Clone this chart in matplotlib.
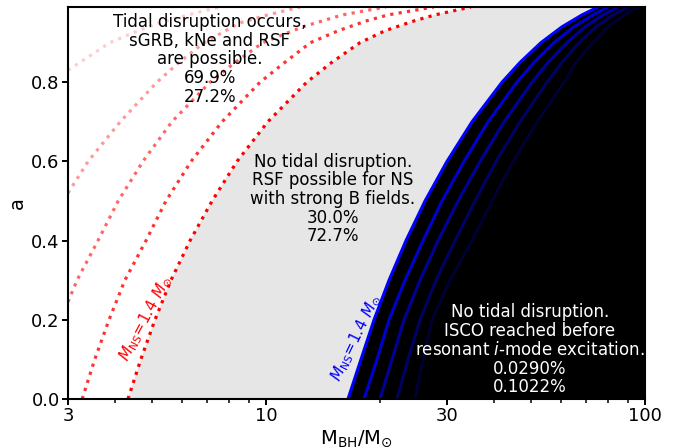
import matplotlib.pyplot as plt
import numpy as np

# BH spin vs. BH mass boundaries for a set of NS masses (first entry is 1.4 Msun)
# tidal-disruption boundaries
spin_td = [
    [0, 0.1, 0.2, 0.3, 0.4, 0.5, 0.6, 0.7, 0.8, 0.85, 0.9, 0.93, 0.955, 0.97, 0.99],
    [0, 0.1, 0.2, 0.3, 0.4, 0.5, 0.6, 0.7, 0.8, 0.85, 0.9, 0.93, 0.955, 0.97, 0.99],
    [0.245, 0.3, 0.4, 0.5, 0.6, 0.7, 0.8, 0.85, 0.9, 0.94, 0.97, 0.99],
    [0.52, 0.6, 0.7, 0.8, 0.85, 0.9, 0.95, 0.97, 0.99],
    [0.83, 0.87, 0.9, 0.93, 0.95, 0.97, 0.99],
]
mbh_td = [
    [4.32, 4.67, 5.09, 5.61, 6.30, 7.20, 8.38, 10.1, 12.8, 14.9, 17.7, 20.6, 24.6, 27.9, 34.7],
    [3.27, 3.53, 3.85, 4.24, 4.82, 5.44, 6.34, 7.65, 9.64, 11.2, 13.1, 15.5, 18.4, 21.0, 27.7],
    [3.0, 3.17, 3.60, 4.07, 4.73, 5.64, 7.11, 8.28, 9.81, 12.5, 15.9, 20.7],
    [3.0, 3.39, 4.12, 5.15, 5.89, 6.86, 8.53, 10.1, 12.3],
    [3.0, 3.47, 3.87, 4.59, 5.25, 6.22, 7.56],
]

# ISCO reached before resonant i-mode excitation
spin_isco = [0, 0.1, 0.2, 0.3, 0.4, 0.5, 0.6, 0.7, 0.8, 0.85, 0.9, 0.94, 0.97, 0.99]
mbh_isco = [
    [16.45, 17.80, 19.27, 21.11, 23.40, 26.27, 30.02, 34.95, 41.94, 46.79, 53.15, 60.40, 68.20, 75.17],
    [18.13, 19.62, 21.11, 23.26, 25.95, 29.12, 33.29, 38.52, 45.93, 50.94, 57.53, 64.95, 72.90, 79.88],
    [19.98, 21.50, 23.12, 25.48, 28.43, 32.10, 36.69, 42.46, 50.32, 55.46, 62.26, 69.46, 77.50, 84.89],
    [22.16, 23.69, 25.48, 28.08, 31.52, 35.59, 40.44, 46.79, 55.13, 60.40, 66.97, 74.27, 82.34, 90.22],
    [24.72, 25.95, 27.40, 30.58, 34.95, 39.47, 44.83, 51.94, 61.13, 65.75, 72.90, 79.88, 88.04, 95.85],
]

alphas = [1.0, 0.8, 0.6, 0.4, 0.2]

frac_td = ['69.9%', '27.2%']
frac_rsf = ['30.0%', '72.7%']
frac_isco = ['0.0290%', '0.1022%']

a_max = 0.99

fig = plt.figure(figsize=(6.86, 4.48), dpi=100)
ax = fig.add_axes([0.0991, 0.1094, 0.8411, 0.875])

# shaded regions bounded by the 1.4 Msun curves
ax.fill(np.concatenate([mbh_td[0], mbh_isco[0][::-1]]),
        np.concatenate([spin_td[0], spin_isco[::-1]]),
        color='0.9', lw=0, zorder=0)
ax.fill(np.concatenate([mbh_isco[0], [100, 100]]),
        np.concatenate([spin_isco, [a_max, 0]]),
        color='k', lw=0, zorder=0)

for i in range(len(mbh_td)):
    ax.plot(mbh_td[i], spin_td[i], ':', c='r', lw=2.3, alpha=alphas[i])
for i in range(len(mbh_isco)):
    ax.plot(mbh_isco[i], spin_isco, '-', c='b', lw=2.2, alpha=alphas[i])

ax.set_xscale('log')
ax.set_xlim(3, 100)
ax.set_ylim(0, a_max)
ax.set_xticks([3, 10, 30, 100])
ax.set_xticklabels(['3', '10', '30', '100'])
ax.set_yticks([0, 0.2, 0.4, 0.6, 0.8])

ax.tick_params(which='major', length=4.5, width=1.4, labelsize=13, pad=1.5)
ax.tick_params(which='minor', length=3, width=1.1)
for s in ax.spines.values():
    s.set_linewidth(1.5)

ax.set_xlabel(r'$\rm M_{BH}/M_{\odot}$', fontsize=14, labelpad=2)
ax.set_ylabel('a', fontsize=14, labelpad=3)

fs = 12
ax.text(7.11, 0.858, 'Tidal disruption occurs,\nsGRB, kNe and RSF\nare possible.\n'
        + '\n'.join(frac_td), ha='center', va='center', fontsize=fs, linespacing=1.05)
ax.text(15.0, 0.505, 'No tidal disruption.\nRSF possible for NS\nwith strong B fields.\n'
        + '\n'.join(frac_rsf), ha='center', va='center', fontsize=fs, linespacing=1.05)
ax.text(49.7, 0.124, 'No tidal disruption.\nISCO reached before\nresonant $i$-mode excitation.\n'
        + '\n'.join(frac_isco), ha='center', va='center', fontsize=fs, color='w',
        linespacing=1.05)

ax.text(4.79, 0.205, r'$M_{\rm NS}\!=\!1.4\ M_{\odot}$', color='r', rotation=62,
        ha='center', va='center', fontsize=11)
ax.text(17.27, 0.154, r'$M_{\rm NS}\!=\!1.4\ M_{\odot}$', color='b', rotation=64,
        ha='center', va='center', fontsize=11)

fig.savefig('out.png', dpi=100)
